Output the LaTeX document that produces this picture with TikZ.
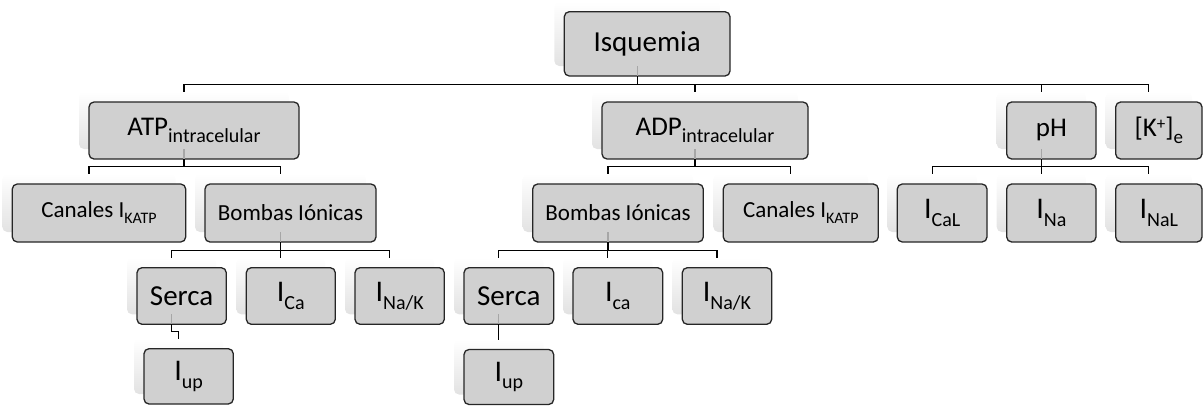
\documentclass[tikz,border=0pt]{standalone}
\usepackage{fontspec}
\setmainfont{Carlito}
\usetikzlibrary{calc}
\definecolor{boxfill}{HTML}{D0D0D0}
\definecolor{boxline}{HTML}{262626}
\definecolor{shadowtint}{HTML}{E2E2E2}
% lowered / raised smaller text for subscripts and superscripts
\newcommand\lowsub[3]{\raisebox{-#2pt}{\fontsize{#1}{#1}\selectfont #3}}
\newcommand\highsup[3]{\raisebox{#2pt}{\fontsize{#1}{#1}\selectfont #3}}
\newcommand\fs[1]{\fontsize{#1}{#1}\selectfont}
% current symbol: a large I with a smaller lowered label
\newcommand\cur[1]{\fs{30}I\lowsub{20}{7.7}{#1}}
% box with its soft offset shadow and three named connection points
% #1 name, #2 left, #3 right, #4 top, #5 bottom, #6 text
\newcommand\pbox[6]{%
  \shade[top color=white, bottom color=shadowtint, rounded corners=5pt]
    (#2-10,#4-10) rectangle (#3-10,#5-10);
  \node[box, minimum width={#3-#2}, minimum height={#5-#4}] (#1)
    at ({(#2+#3)/2},{(#4+#5)/2}) {#6};
  \coordinate (#1-in)  at ({(#2+#3)/2-10},{#4-10});
  \coordinate (#1-out) at ({(#2+#3)/2-10},{#5-10});
  \coordinate (#1-bot) at ({(#2+#3)/2-10},{#5});
}
\begin{document}
\begin{tikzpicture}[x=1pt,y=-1pt,
  box/.style={draw=boxline, line width=1.3pt, fill=boxfill, rounded corners=5pt,
              inner sep=0pt, align=center, text=black},
  link/.style={draw=black, line width=1.2pt},
  faint/.style={draw=black!35, line width=1.2pt}]
\useasboundingbox (0,0) rectangle (1203,405);

% level 0
\pbox{isq}{564.3}{730}{11.7}{76}{\fs{29}Isquemia}
% level 1
\pbox{atp}{89}{299}{102}{159}{\fs{27}ATP\lowsub{20}{7.7}{intracelular}}
\pbox{adp}{602}{808}{102}{159}{\fs{27}ADP\lowsub{20}{7.7}{intracelular}}
\pbox{ph}{1006.7}{1096}{102}{159}{\fs{27}pH}
\pbox{kext}{1115.7}{1202}{102}{159}{\fs{27}[K\highsup{17}{7}{+}]\lowsub{19}{7}{e}}
% level 2
\pbox{can1}{12.3}{185.7}{184}{242}{\fs{23}Canales I\lowsub{16}{6}{KATP}}
\pbox{bom1}{205}{376}{184}{242}{\fs{23}Bombas Iónicas}
\pbox{bom2}{532.7}{703.3}{184}{242}{\fs{23}Bombas Iónicas}
\pbox{can2}{723.3}{878.3}{184}{242}{\fs{23}Canales I\lowsub{16}{6}{KATP}}
\pbox{cal}{897.3}{987}{184}{242}{\cur{CaL}}
\pbox{ina}{1006.7}{1096}{184}{242}{\cur{Na}}
\pbox{nal}{1115.7}{1202}{184}{242}{\cur{NaL}}
% level 3
\pbox{ser1}{137}{226.3}{267.7}{324.3}{\fs{29}Serca}
\pbox{ica1}{246.3}{335.3}{267.7}{324.3}{\cur{Ca}}
\pbox{nak1}{355}{444.3}{267.7}{324.3}{\cur{Na/K}}
\pbox{ser2}{464}{553.7}{267.7}{324.3}{\fs{29}Serca}
\pbox{ica2}{573}{662.7}{267.7}{324.3}{\cur{ca}}
\pbox{nak2}{682.3}{771.7}{267.7}{324.3}{\cur{Na/K}}
% level 4
\pbox{iup1}{144}{233.3}{348.7}{404}{\cur{up}}
\pbox{iup2}{464}{553.7}{349.5}{404.5}{\cur{up}}

% parent stubs seen through the lower part of each box
\foreach \p in {isq,atp,adp,ph,bom1,bom2,ser1,ser2}
  \draw[faint] (\p-out) -- (\p-bot);

% elbow connectors: down from the parent, along a bus, down to the child
\foreach \p/\c in {isq/atp,isq/adp,isq/ph,isq/kext,
                   atp/can1,atp/bom1,
                   adp/bom2,adp/can2,
                   ph/cal,ph/ina,ph/nal,
                   bom1/ser1,bom1/ica1,bom1/nak1,
                   bom2/ser2,bom2/ica2,bom2/nak2,
                   ser1/iup1,ser2/iup2}
  \draw[link] (\p-bot) |- ($(\c-in)+(0,-7.5)$) -- (\c-in);
\end{tikzpicture}
\end{document}
